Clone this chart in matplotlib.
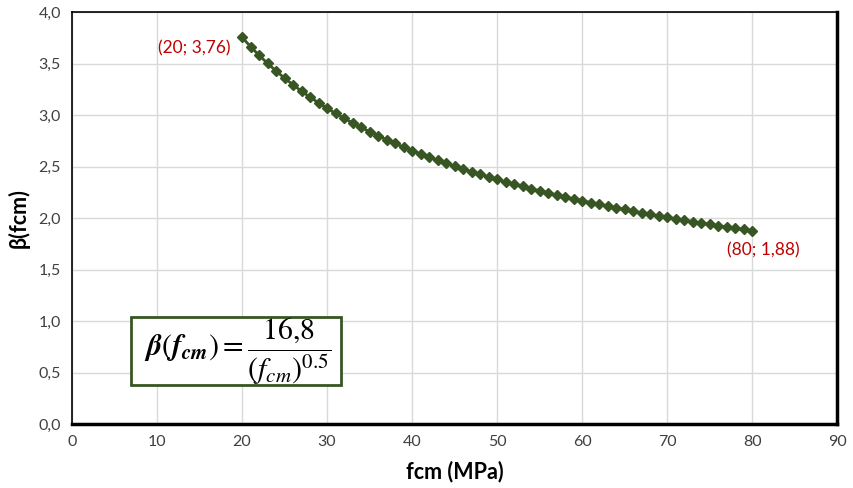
import matplotlib
matplotlib.use("Agg")
import matplotlib.pyplot as plt
from matplotlib.patches import Rectangle
from matplotlib.ticker import FuncFormatter

plt.rcParams['font.family'] = ['Lato', 'DejaVu Sans']
plt.rcParams['mathtext.fontset'] = 'stix'

# data (beta = 16,8 / fcm^0.5, one point per MPa)
fcm = list(range(20, 81))
beta = [3.757, 3.666, 3.582, 3.503, 3.429, 3.360, 3.295, 3.233, 3.175, 3.120,
        3.067, 3.017, 2.970, 2.925, 2.881, 2.840, 2.800, 2.762, 2.725, 2.690,
        2.656, 2.624, 2.592, 2.562, 2.533, 2.504, 2.477, 2.451, 2.425, 2.400,
        2.376, 2.352, 2.330, 2.308, 2.286, 2.265, 2.245, 2.225, 2.206, 2.187,
        2.169, 2.151, 2.134, 2.117, 2.100, 2.084, 2.068, 2.052, 2.037, 2.022,
        2.008, 1.994, 1.980, 1.966, 1.953, 1.940, 1.927, 1.915, 1.902, 1.890,
        1.878]
x_ticks = list(range(0, 91, 10))
y_ticks = [0.0, 0.5, 1.0, 1.5, 2.0, 2.5, 3.0, 3.5, 4.0]
labels = ["(20; 3,76)", "(80; 1,88)"]

green = '#375623'
red = '#c00000'

fig = plt.figure(figsize=(8.54, 4.88), dpi=100)
ax = fig.add_axes([0.0843, 0.131, 0.896, 0.844])

ax.plot(fcm, beta, color=green, lw=2, marker='D', markersize=5.5, zorder=3)

ax.set_xlim(0, 90)
ax.set_ylim(0, 4)
ax.set_xticks(x_ticks)
ax.set_yticks(y_ticks)
ax.yaxis.set_major_formatter(FuncFormatter(lambda v, p: f"{v:.1f}".replace('.', ',')))
ax.grid(True, color='#d9d9d9', lw=1)
ax.set_axisbelow(True)
ax.tick_params(length=0, labelsize=11.5, colors='#404040', pad=8)

for s in ax.spines.values():
    s.set_color('black')
    s.set_linewidth(1.2)
ax.spines['right'].set_linewidth(2.5)
ax.spines['bottom'].set_linewidth(2.5)

ax.set_xlabel('fcm (MPa)', fontsize=15.5, fontweight='bold', labelpad=8)
ax.set_ylabel('β(fcm)', fontsize=15.5, fontweight='bold', labelpad=6)

ax.annotate(labels[0], (fcm[0], beta[0]), xytext=(-8, -8), textcoords='offset points',
            ha='right', va='center', color=red, fontsize=12.5)
ax.annotate(labels[1], (fcm[-1], beta[-1]), xytext=(8, -14), textcoords='offset points',
            ha='center', va='center', color=red, fontsize=12.5)

# formula box
ax.add_patch(Rectangle((0.077, 0.095), 0.275, 0.165, transform=ax.transAxes,
                       fc='white', ec=green, lw=2, zorder=4))
ax.text(0.216, 0.177,
        r'$\boldsymbol{\beta}(\boldsymbol{f}_{\boldsymbol{cm}}) = \dfrac{16{,}8}{(f_{cm})^{0.5}}$',
        transform=ax.transAxes, ha='center', va='center', fontsize=21.5, zorder=5)

fig.savefig('out.png', dpi=100)
